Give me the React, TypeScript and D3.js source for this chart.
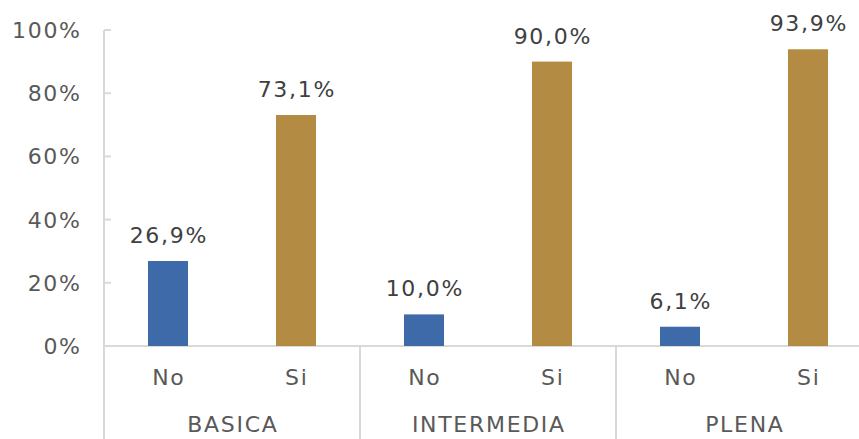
import React from "react";
import * as d3 from "d3";

const categories = ["BASICA", "INTERMEDIA", "PLENA"];
const subcategories = ["No", "Si"];
const noValues = [26.9, 10.0, 6.1];
const siValues = [73.1, 90.0, 93.9];
const yTicks = [0, 20, 40, 60, 80, 100];

const W = 859;
const H = 439;
const left = 104;
const right = 872;
const top = 30;
const base = 346;
const font = "'DejaVu Sans', Verdana, sans-serif";
const fs = 22;
const ls = 1.7;
const colors: Record<string, string> = { No: "#3F6AAA", Si: "#B38B42" };

export default function App() {
  const y = d3.scaleLinear().domain([0, 100]).range([base, top]);
  const x0 = d3.scaleBand().domain(categories).range([left, right]).paddingInner(0).paddingOuter(0);
  const x1 = d3.scaleBand().domain(subcategories).range([0, x0.bandwidth()]);
  const barW = 40;
  const fmt = (v: number) => v.toFixed(1).replace(".", ",") + "%";
  const data = categories.flatMap((c, i) => [
    { c, s: "No", v: noValues[i] },
    { c, s: "Si", v: siValues[i] },
  ]);
  return (
    <svg width={W} height={H} style={{ position: "absolute", left: 0, top: 0, background: "#fff" }}>
      <line x1={left} x2={left} y1={top} y2={H} stroke="#d9d9d9" strokeWidth={2} />
      {yTicks.map((t) => (
        <g key={t}>
          <line x1={left} x2={left + 7} y1={y(t)} y2={y(t)} stroke="#d9d9d9" strokeWidth={2} />
          <text x={80 + ls} y={y(t) + 8} textAnchor="end" fontFamily={font} fontSize={fs} letterSpacing={ls} fill="#595959">
            {t}%
          </text>
        </g>
      ))}
      <line x1={left} x2={W} y1={base} y2={base} stroke="#d9d9d9" strokeWidth={2} />
      {categories.map((c) => (
        <line key={c} x1={x0(c)!} x2={x0(c)!} y1={base} y2={H} stroke="#d9d9d9" strokeWidth={2} />
      ))}
      {data.map((d) => {
        const cx = x0(d.c)! + x1(d.s)! + x1.bandwidth() / 2;
        return (
          <g key={d.c + d.s}>
            <rect x={cx - barW / 2} y={y(d.v)} width={barW} height={base - y(d.v)} fill={colors[d.s]} />
            <text x={cx + ls / 2} y={y(d.v) - 18} textAnchor="middle" fontFamily={font} fontSize={fs} letterSpacing={ls} fill="#404040">
              {fmt(d.v)}
            </text>
            <text x={cx + ls / 2} y={385} textAnchor="middle" fontFamily={font} fontSize={fs} letterSpacing={ls} fill="#595959">
              {d.s}
            </text>
          </g>
        );
      })}
      {categories.map((c) => (
        <text key={c} x={x0(c)! + x0.bandwidth() / 2 + ls / 2} y={432} textAnchor="middle" fontFamily={font} fontSize={fs} letterSpacing={ls} fill="#595959">
          {c}
        </text>
      ))}
    </svg>
  );
}
